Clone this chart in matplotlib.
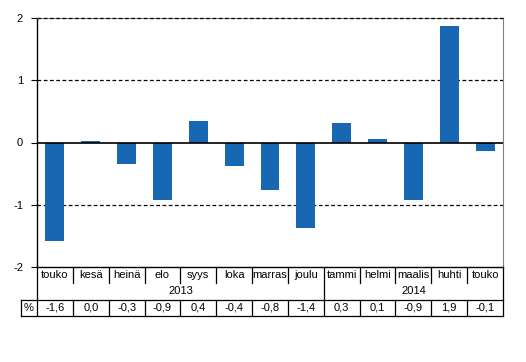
import matplotlib
matplotlib.use("Agg")
import matplotlib.pyplot as plt

# ── data ──────────────────────────────────────────────────────────────────────
months = ["touko", "kesä", "heinä", "elo", "syys", "loka", "marras", "joulu",
          "tammi", "helmi", "maalis", "huhti", "touko"]
values = [-1.58, 0.02, -0.35, -0.93, 0.34, -0.38, -0.77, -1.38,
          0.32, 0.05, -0.92, 1.87, -0.14]
table_labels = ["-1,6", "0,0", "-0,3", "-0,9", "0,4", "-0,4", "-0,8", "-1,4",
                "0,3", "0,1", "-0,9", "1,9", "-0,1"]
years = ["2013", "2014"]
year_spans = [(0, 7), (8, 12)]
yticks = [-2, -1, 0, 1, 2]

W, H = 526, 362
plt.rcParams["font.family"] = ["Liberation Sans", "DejaVu Sans"]
plt.rcParams["font.size"] = 8

fig = plt.figure(figsize=(W / 100, H / 100), dpi=100)

# ── main bar axes ─────────────────────────────────────────────────────────────
ax = fig.add_axes([37 / W, (H - 267) / H, 466 / W, 249 / H])
x = list(range(len(values)))
ax.bar(x, values, width=0.53, color="#1767b3", zorder=3)
ax.axhline(0, color="black", lw=1.2, zorder=4)
for y in (1, -1):
    ax.axhline(y, color="black", lw=0.9, ls=(0, (3, 2)), zorder=2)
# dashed grid at the top sits over the gray frame
ax.axhline(2, color="black", lw=0.9, ls=(0, (3, 2)), zorder=5, clip_on=False)

ax.set_xlim(-0.5, len(values) - 0.5)
ax.set_ylim(-2, 2)
ax.set_xticks([])
ax.set_yticks(yticks)
ax.set_yticklabels([str(t) for t in yticks])
ax.tick_params(axis="y", length=4, width=0.8, pad=6)
ax.spines["top"].set_color("#808080")
ax.spines["right"].set_color("#808080")
ax.spines["left"].set_linewidth(1.0)
ax.spines["bottom"].set_linewidth(1.0)

# ── data table below the axis ─────────────────────────────────────────────────
colw = 466 / len(values)
x0 = -0.5 - 16 / colw
n = len(values)
tax = fig.add_axes([21 / W, (H - 316) / H, 482 / W, 49 / H])
tax.set_xlim(x0, n - 0.5)
tax.set_ylim(0, 49)
tax.axis("off")

lk = dict(color="black", lw=0.9, clip_on=False)
tax.plot([x0, n - 0.5], [0.3, 0.3], **lk)
tax.plot([x0, n - 0.5], [16, 16], **lk)
tax.plot([x0, x0], [0, 16], **lk)
tax.plot([-0.5, -0.5], [0, 49], **lk)
tax.plot([n - 0.5, n - 0.5], [0, 49], **lk)
for i in range(n - 1):
    b = i + 0.5
    if any(b == s[1] + 0.5 for s in year_spans[:-1]):
        tax.plot([b, b], [0, 49], **lk)
    else:
        tax.plot([b, b], [0, 16], **lk)
        tax.plot([b, b], [33, 49], **lk)

for i, m in enumerate(months):
    tax.text(i, 41, m, ha="center", va="center")
for i, lab in enumerate(table_labels):
    tax.text(i, 8, lab, ha="center", va="center")
for yr, (a, b) in zip(years, year_spans):
    tax.text((a + b) / 2, 24.5, yr, ha="center", va="center")
tax.text((x0 - 0.5) / 2, 8, "%", ha="center", va="center")

fig.savefig("out.png", dpi=100)
